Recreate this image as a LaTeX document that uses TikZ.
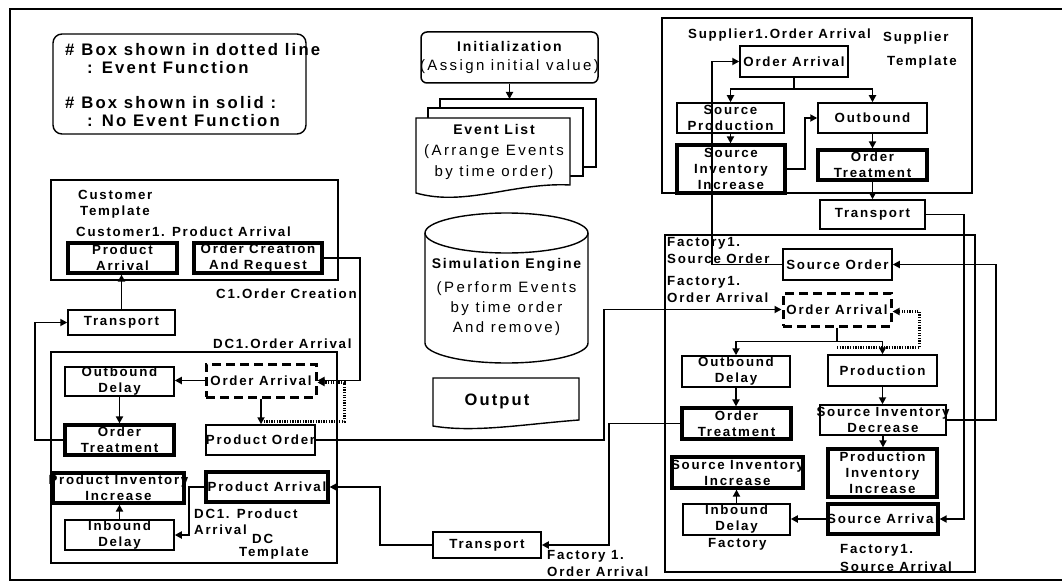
\documentclass[tikz,border=0pt]{standalone}
\usepackage{fontspec}
\setmainfont{Liberation Sans}
\newfontfamily\lsfont{Liberation Sans}[LetterSpace=13]
\newfontfamily\plainfont{Liberation Sans}[LetterSpace=16]
\usetikzlibrary{arrows.meta,calc}

% zero-width centred line, so box text never widens a box
\newcommand{\zw}[1]{\makebox[0pt]{#1}}
\newcommand{\bxf}{\lsfont\bfseries\fontsize{13.3}{16}\selectfont}
\newcommand{\plf}{\plainfont\mdseries\fontsize{15}{19}\selectfont}

\tikzset{
  sz/.style 2 args={minimum width=#1pt, minimum height=#2pt},
  plainbox/.style={draw, line width=1.5pt, inner sep=0pt, align=center, font=\bxf},
  thickbox/.style={plainbox, line width=3.2pt},
  evbox/.style={plainbox, line width=3pt, dash pattern=on 9pt off 5pt},
  tmpl/.style={draw, line width=1.4pt, inner sep=0pt},
  lbl/.style={anchor=west, inner sep=0pt, font=\bxf},
  page/.style={draw, line width=1.4pt, fill=white},
  ln/.style={line width=1.9pt},
  arr/.style={ln, -{Triangle[length=7pt,width=7pt]}},
  dotarr/.style={line width=2.6pt, dash pattern=on 1.3pt off 1.3pt, -{Triangle[length=7pt,width=7pt]}},
  legendtxt/.style={anchor=west, align=left, inner sep=0pt, font=\lsfont\bfseries\fontsize{16.7}{18}\selectfont},
}

\begin{document}
\begin{tikzpicture}[x=1pt,y=-1pt]
\useasboundingbox (0,0) rectangle (1062,583);

% outer frame
\draw[line width=2pt] (1070,9) -- (10,9) -- (10,580) -- (1070,580);

% ---------- legend ----------
\node[draw, line width=1.4pt, rounded corners=9pt, sz={253}{100}] (legend) at (179.5,84) {};
\node[legendtxt] (leg1) at (65,59) {\# Box shown in dotted line\\\hspace*{22pt}: Event Function};
\node[legendtxt] (leg2) at (65,112) {\# Box shown in solid :\\\hspace*{22pt}: No Event Function};

% ---------- customer template ----------
\node[tmpl, sz={287}{100}] (cust) at (194.5,230) {};
\node[lbl] (custT1) at (78,195) {Customer};
\node[lbl] (custT2) at (80,212) {Template};
\node[lbl] (custL) at (76,232) {Customer1. Product Arrival};
\node[thickbox, sz={109}{30}] (cPA) at (122.5,258) {\zw{Product}\\\zw{Arrival}};
\node[thickbox, sz={128}{30}] (cOCR) at (258,258) {\zw{Order Creation}\\\zw{And Request}};
\node[plainbox, sz={107}{25}] (cTr) at (121.5,322.5) {\zw{Transport}};
\node[lbl] (c1lbl) at (216,294) {C1.Order Creation};
\node[lbl] (dc1lbl) at (213,344) {DC1.Order Arrival};

% ---------- DC template ----------
\node[tmpl, sz={286}{211}] (dc) at (194,457.5) {};
\node[evbox, sz={110}{33}] (dOA) at (261,380.5) {\zw{Order Arrival}};
\node[plainbox, sz={109}{29}] (dOD) at (119.5,381.5) {\zw{Outbound}\\\zw{Delay}};
\node[thickbox, sz={109}{30}] (dOT) at (119.5,440) {\zw{Order}\\\zw{Treatment}};
\node[plainbox, sz={109}{30}] (dPO) at (260.5,440) {\zw{Product Order}};
\node[thickbox, sz={122}{30}] (dPA) at (267,487) {\zw{Product Arrival}};
\node[thickbox, sz={131}{30}] (dPII) at (118.5,488) {\zw{Product Inventory}\\\zw{Increase}};
\node[plainbox, sz={109}{30}] (dID) at (119.5,535) {\zw{Inbound}\\\zw{Delay}};
\node[lbl] (dcl1) at (194,514) {DC1. Product};
\node[lbl] (dcl2) at (194,530) {Arrival};
\node[lbl] (dcl3) at (252,539) {DC};
\node[lbl] (dcl4) at (239,553) {Template};

% ---------- simulation core ----------
\node[plainbox, rounded corners=6pt, sz={177}{51}, font=\lsfont\bfseries\fontsize{14}{19}\selectfont] (init) at (509.5,57.5)
  {\zw{Initialization}\\\zw{\plf (Assign initial value)}};

% event list: three stacked documents
\draw[page] (440,99) rectangle (596,167);
\draw[page] (428,108) rectangle (583,176);
\draw[page] (416,118) -- (570,118) -- (570,185)
  .. controls (515,182) and (465,207) .. (416,193) -- cycle;
\coordinate (evtop) at (509.5,99);
\node[align=center, inner sep=0pt, font=\lsfont\bfseries\fontsize{14}{21}\selectfont] (evl) at (494,152)
  {\zw{Event List}\\\zw{\plf (Arrange Events}\\\zw{\plf by time order)}};
\draw[arr] (init.south) -- (evtop);

% simulation engine cylinder
\draw[line width=1.4pt] (506.5,233) ellipse [x radius=81.5pt, y radius=20pt];
\draw[line width=1.4pt] (425,233) -- (425,343)
  .. controls (425,354) and (461.5,363) .. (506.5,363)
  .. controls (551.5,363) and (588,354) .. (588,343) -- (588,233);
\node[align=center, inner sep=0pt, font=\lsfont\bfseries\fontsize{14}{20}\selectfont] (sim) at (506.5,297)
  {\zw{Simulation Engine}\\[4pt]\zw{\plf (Perform Events}\\\zw{\plf by time order}\\\zw{\plf And remove)}};

% output document
\draw[page] (433,378) -- (579,378) -- (579,420)
  .. controls (525,424) and (475,433) .. (433,426) -- cycle;
\node[inner sep=0pt, font=\lsfont\bfseries\fontsize{16.5}{18}\selectfont] (out) at (497,401) {Output};

% ---------- supplier template ----------
\node[tmpl, sz={310}{175}] (sup) at (817,105.5) {};
\node[lbl] (supL) at (688,35) {Supplier1.Order Arrival};
\node[lbl] (supT1) at (883,38) {Supplier};
\node[lbl] (supT2) at (887,62) {Template};
\node[plainbox, sz={108}{31}] (sOA) at (794,61.5) {\zw{Order Arrival}};
\node[plainbox, sz={107}{30}] (sSP) at (730.5,118) {\zw{Source}\\\zw{Production}};
\node[plainbox, sz={109}{30}] (sOB) at (872.5,118) {\zw{Outbound}};
\node[thickbox, sz={108}{48}] (sSII) at (731,169) {\zw{Source}\\\zw{Inventory}\\\zw{Increase}};
\node[thickbox, sz={109}{30}] (sOT) at (872.5,165) {\zw{Order}\\\zw{Treatment}};
\node[plainbox, sz={105}{29}] (sTr) at (872.5,214.5) {\zw{Transport}};

% ---------- factory template ----------
\node[tmpl, sz={310}{337}] (fac) at (820,403.5) {};
\node[lbl] (facL1) at (667,243) {Factory1.};
\node[lbl] (facL2) at (667,259) {Source Order};
\node[lbl] (facL3) at (667,282) {Factory1.};
\node[lbl] (facL4) at (667,298) {Order Arrival};
\node[lbl] (facT) at (708,544) {Factory};
\node[lbl] (facL5) at (840,550) {Factory1.};
\node[lbl] (facL6) at (840,567) {Source Arrival};
\node[plainbox, sz={109}{31}] (fSO) at (837.5,264.5) {\zw{Source Order}};
\node[evbox, sz={108}{33}] (fOA) at (837,309.5) {\zw{Order Arrival}};
\node[plainbox, sz={108}{31}] (fOD) at (736,371.5) {\zw{Outbound}\\\zw{Delay}};
\node[plainbox, sz={109}{31}] (fPR) at (882.5,370.5) {\zw{Production}};
\node[thickbox, sz={109}{31}] (fOT) at (736.5,423.5) {\zw{Order}\\\zw{Treatment}};
\node[plainbox, sz={126}{30}] (fSID) at (883,420) {\zw{Source Inventory}\\\zw{Decrease}};
\node[thickbox, sz={109}{48}] (fPII) at (882.5,473) {\zw{Production}\\\zw{Inventory}\\\zw{Increase}};
\node[thickbox, sz={131}{31}] (fSII) at (737.5,472.5) {\zw{Source Inventory}\\\zw{Increase}};
\node[plainbox, sz={107}{31}] (fID) at (736.5,519.5) {\zw{Inbound}\\\zw{Delay}};
\node[thickbox, sz={110}{30}] (fSA) at (883,519) {\zw{Source Arrival}};

% transport between factory and DC
\node[plainbox, sz={108}{26}] (bTr) at (487,545) {\zw{Transport}};
\node[lbl] (fo1) at (547,556) {Factory 1.};
\node[lbl] (fo2) at (547,572) {Order Arrival};

% ---------- connectors: customer / DC ----------
\draw[arr] (cTr.north) -- (cTr.north |- cPA.south);
\draw[arr] (cOCR.east) -- ++(36,0) |- (dOA.east);
\draw[arr] (dOA.west) -- (dOA.west -| dOD.east);
\draw[arr] (dOA.south) -- (dOA.south |- dPO.north);
\draw[dotarr] ($(dOA.south)+(0,23)$) -| ($(dOA.east)+(27,2)$) -- ($(dOA.east)+(0,2)$);
\draw[arr] (dOD.south) -- (dOD.south |- dOT.north);
\draw[arr] (dOT.west) -- ++(-28,0) |- (cTr.west);
\draw[arr] (dID.north) -- (dID.north |- dPII.south);
\draw[arr] (dPA.west) -- ++(-15,0) |- (dID.east);
\draw[arr] (dPO.east) -- ++(288,0) |- (fOA.west);
\draw[arr] (bTr.west) -- ++(-52,0) |- (dPA.east);

% ---------- connectors: supplier ----------
\draw[ln] (sOA.south) -- ++(0,11) coordinate (sbr);
\draw[arr] (sbr) -| (sSP.north);
\draw[arr] (sbr) -| (sOB.north);
\draw[arr] (sSP.south) -- (sSP.south |- sSII.north);
\draw[arr] (sSII.east) -- ++(18,0) |- (sOB.west);
\draw[arr] (sOB.south) -- (sOT.north);
\draw[arr] (sOT.south) -- (sTr.north);
\draw[arr] (sTr.east) -- ++(38,0) |- (fSA.east);

% ---------- connectors: factory ----------
\draw[arr] (fSO.west) -- ++(-70,0) |- (sOA.west);
\draw[arr] (fSID.east) -- ++(49,0) |- (fSO.east);
\draw[ln] (fOA.south) -- ++(0,14) coordinate (fbr);
\draw[arr] (fbr) -| (fOD.north);
\draw[arr] (fbr) -| (fPR.north);
\draw[dotarr] ($(fOA.south)+(0,20)$) -| ($(fOA.east)+(27,2)$) -- ($(fOA.east)+(0,2)$);
\draw[arr] (fOD.south) -- (fOD.south |- fOT.north);
\draw[arr] (fPR.south) -- (fPR.south |- fSID.north);
\draw[arr] (fSID.south) -- (fSID.south |- fPII.north);
\draw[arr] (fID.north) -- (fID.north |- fSII.south);
\draw[arr] (fSA.west) -- (fSA.west -| fID.east);
\draw[arr] (fOT.west) -- ++(-71,0) |- (bTr.east);

\end{tikzpicture}
\end{document}
